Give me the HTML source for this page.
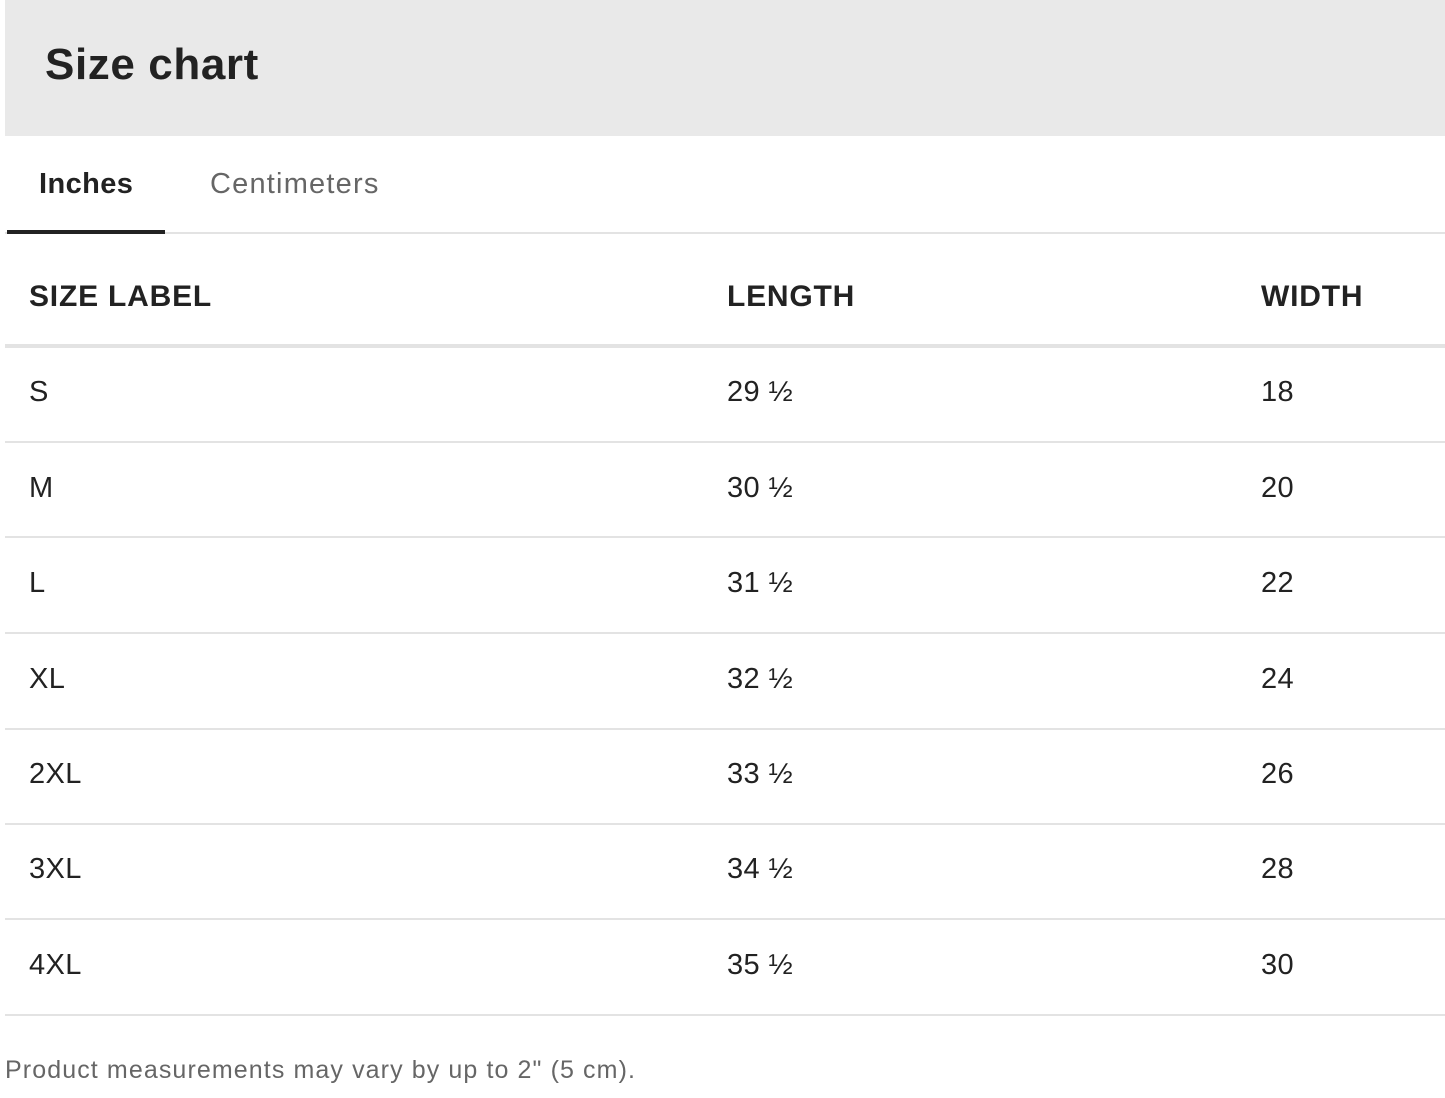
<!DOCTYPE html>
<html><head><style>
body{margin:0;width:1445px;height:1098px;background:#fff;font-family:"Liberation Sans",sans-serif;position:relative;overflow:hidden;color:#222}
.hd{position:absolute;left:5px;top:0;width:1440px;height:136px;background:#e9e9e9}
.hd span{position:absolute;left:40px;top:40px;font-size:44px;font-weight:bold;color:#222;letter-spacing:0.6px}
.t{position:absolute;font-size:29px;line-height:30px;letter-spacing:0.4px}
.line{position:absolute;left:5px;width:1440px;height:2px;background:#e3e3e3}
</style></head><body>
<div class="hd"><span>Size chart</span></div>
<div class="t" style="left:39px;top:169px;font-weight:bold;">Inches</div>
<div class="t" style="left:210px;top:169px;color:#666;letter-spacing:1.2px">Centimeters</div>
<div class="line" style="top:232px;"></div>
<div style="position:absolute;left:7px;top:230px;width:158px;height:4px;background:#222"></div>
<div class="t" style="left:29px;top:282px;font-weight:bold;font-size:30px;letter-spacing:0.8px">SIZE LABEL</div>
<div class="t" style="left:727px;top:282px;font-weight:bold;font-size:30px;letter-spacing:0.8px">LENGTH</div>
<div class="t" style="left:1261px;top:282px;font-weight:bold;font-size:30px;letter-spacing:0.8px">WIDTH</div>
<div class="line" style="top:344px;height:4px"></div>
<div class="t" style="left:29px;top:377px">S</div><div class="t" style="left:727px;top:377px">29 ½</div><div class="t" style="left:1261px;top:377px">18</div>
<div class="line" style="top:441px"></div>
<div class="t" style="left:29px;top:473px">M</div><div class="t" style="left:727px;top:473px">30 ½</div><div class="t" style="left:1261px;top:473px">20</div>
<div class="line" style="top:536px"></div>
<div class="t" style="left:29px;top:568px">L</div><div class="t" style="left:727px;top:568px">31 ½</div><div class="t" style="left:1261px;top:568px">22</div>
<div class="line" style="top:632px"></div>
<div class="t" style="left:29px;top:664px">XL</div><div class="t" style="left:727px;top:664px">32 ½</div><div class="t" style="left:1261px;top:664px">24</div>
<div class="line" style="top:728px"></div>
<div class="t" style="left:29px;top:759px">2XL</div><div class="t" style="left:727px;top:759px">33 ½</div><div class="t" style="left:1261px;top:759px">26</div>
<div class="line" style="top:823px"></div>
<div class="t" style="left:29px;top:854px">3XL</div><div class="t" style="left:727px;top:854px">34 ½</div><div class="t" style="left:1261px;top:854px">28</div>
<div class="line" style="top:918px"></div>
<div class="t" style="left:29px;top:950px">4XL</div><div class="t" style="left:727px;top:950px">35 ½</div><div class="t" style="left:1261px;top:950px">30</div>
<div class="line" style="top:1014px"></div>
<div class="t" style="left:5px;top:1055px;font-size:25px;color:#666;letter-spacing:1.1px">Product measurements may vary by up to 2" (5 cm).</div>
</body></html>
